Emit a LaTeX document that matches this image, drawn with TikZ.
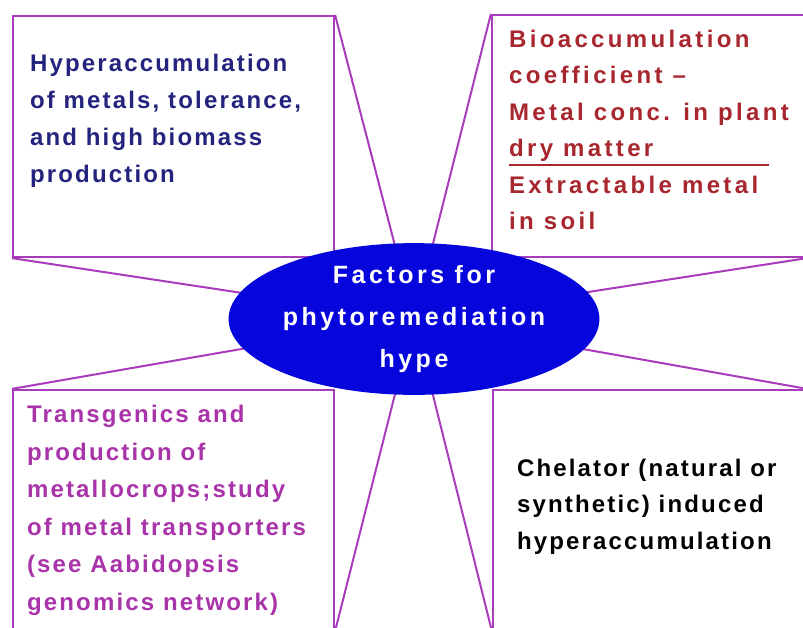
\documentclass[tikz,border=0pt]{standalone}
\usepackage{fontspec}
\usepackage{tikz}
\usetikzlibrary{positioning,shapes.geometric,backgrounds}
\newfontfamily\boxfont[LetterSpace=9,Ligatures={TeX,NoCommon}]{Liberation Sans Bold}
\definecolor{rim}    {HTML}{A83CBC}
\definecolor{navy}   {HTML}{24247E}
\definecolor{brick}  {HTML}{A8262E}
\definecolor{orchid} {HTML}{A933A9}
\definecolor{hubblue}{HTML}{0505DC}
\tikzset{
  panel/.style={draw=rim,line width=2.2pt,inner sep=0pt},
  spoke/.style={draw=rim,line width=2pt},
  blurb/.style={inner sep=0pt,align=left,font=\boxfont\fontsize{24}{37}\selectfont},
}

\begin{document}
\begin{tikzpicture}[x=1pt,y=-1pt]
    \useasboundingbox (0,0) rectangle (803,627);
    \clip (0,0) rectangle (803,627);
    % the four boxes
    \node[panel,minimum width=321pt,minimum height=241pt] (metals) at (173.5,136.5) {};
    \node[panel,minimum width=314pt,minimum height=242pt] (coeff)  at (649,136) {};
    \node[panel,minimum width=321pt,minimum height=240pt] (transg) at (173.5,510) {};
    \node[panel,minimum width=313pt,minimum height=240pt] (chelat) at (649.5,510) {};
    % centre
    \node[ellipse,fill=hubblue,minimum width=298pt,minimum height=148pt,inner sep=0pt,
          text=white,align=center,
          font=\boxfont\addfontfeatures{LetterSpace=14}\fontsize{25}{42}\selectfont]
      (hub) at (414,319) {Factors for\\phytoremediation\\hype};
    % texts
    \node[blurb,text=navy,below right=39pt and 18pt of metals.north west] (metalstxt)
      {Hyperaccumulation\\of metals, tolerance,\\and high biomass\\production};
    \node[blurb,text=brick,
          font=\boxfont\addfontfeatures{LetterSpace=14}\fontsize{24}{36.5}\selectfont,
          below right=16pt and 18pt of coeff.north west] (coefftxt)
      {Bioaccumulation\\coefficient –\\Metal conc. in plant\\%
       \rlap{\rule[-9.5pt]{260pt}{2.4pt}}dry matter\\Extractable metal\\in soil};
    \node[blurb,text=orchid,font=\boxfont\fontsize{24}{37.5}\selectfont,
          below right=16pt and 15pt of transg.north west] (transgtxt)
      {Transgenics and\\production of\\metallocrops;study\\of metal transporters\\(see Aabidopsis\\genomics network)};
    \node[blurb,text=black,font=\boxfont\fontsize{24}{36.5}\selectfont,
          below right=70pt and 25pt of chelat.north west] (chelattxt)
      {Chelator (natural or\\synthetic) induced\\hyperaccumulation};
    % spokes behind the ellipse
    \begin{scope}[on background layer]
      \clip (0,0) rectangle (803,627);
      \fill[white] (0,0) rectangle (803,627);
      \draw[spoke] (metals.north east) -- (hub.center);
      \draw[spoke] (metals.south west) -- (hub.center);
      \draw[spoke] (coeff.north west)  -- (hub.center);
      \draw[spoke] (coeff.south east)  -- (hub.center);
      \draw[spoke] (transg.north west) -- (hub.center);
      \draw[spoke] (transg.south east) -- (hub.center);
      \draw[spoke] (chelat.north east) -- (hub.center);
      \draw[spoke] (chelat.south west) -- (hub.center);
    \end{scope}
\end{tikzpicture}
\end{document}
